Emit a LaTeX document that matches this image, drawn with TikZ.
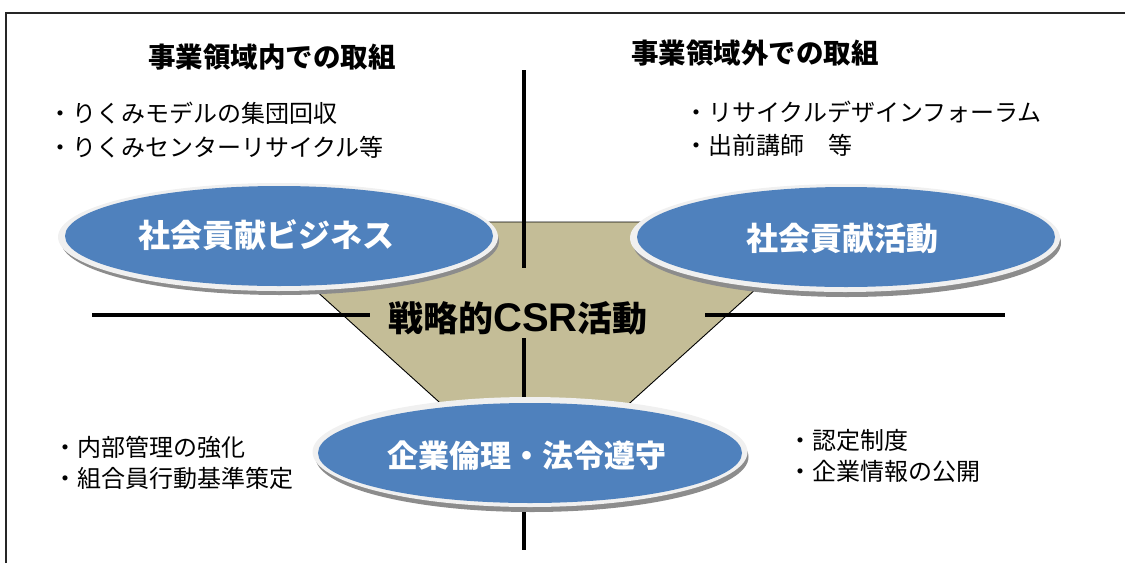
\documentclass[tikz,border=0pt]{standalone}
\usepackage{fontspec}
\setmainfont{Noto Sans CJK JP}
\newfontfamily\jpfont{Noto Sans CJK JP}
\newfontfamily\latinbold{Liberation Sans}
\usetikzlibrary{shapes.geometric}
\definecolor{ovalblue}{RGB}{79,129,189}
\definecolor{tan}{RGB}{196,189,151}
\definecolor{rim}{RGB}{240,240,240}
\tikzset{
  x=1pt,y=-1pt,
  axis/.style={line width=4.5pt,black},
  rimshadow/.style={ellipse,fill=black!45,draw=none,inner sep=0pt},
  rimoval/.style={ellipse,fill=rim,draw=none,inner sep=0pt},
  blueoval/.style={ellipse,fill=ovalblue,draw=none,inner sep=0pt},
  ovaltext/.style={text=white,font=\jpfont\bfseries\fontsize{32}{34}\selectfont,inner sep=0pt},
  header/.style={font=\jpfont\bfseries\fontsize{27.5}{30}\selectfont,inner sep=0pt},
  bullets/.style={font=\jpfont\fontsize{24}{34}\selectfont,align=left,inner sep=0pt,anchor=west},
}
\begin{document}
\begin{tikzpicture}
\useasboundingbox (0,0) rectangle (1125,563);
% frame
\draw[line width=2.5pt,black!85] (6,563) -- (6,13) -- (1125,13);
% trapezoid
\draw[fill=tan,draw=black,line width=0.9pt] (240,222) -- (830,222) -- (611,420) -- (459,420) -- cycle;
% axes
\coordinate (vt) at (524,70);
\coordinate (vm1) at (524,268);
\coordinate (vm2) at (524,338);
\coordinate (vb) at (524,550);
\coordinate (hl) at (92,315);
\coordinate (hm1) at (370,315);
\coordinate (hm2) at (705,315);
\coordinate (hr) at (1005,315);
\draw[axis] (vt) -- (vm1);
\draw[axis] (vm2) -- (vb);
\draw[axis] (hl) -- (hm1);
\draw[axis] (hm2) -- (hr);
% center text
\node[font=\jpfont\bfseries\fontsize{35}{36}\selectfont,inner sep=0pt] (csr) at (518,318) {戦略的{\latinbold\bfseries\fontsize{40}{36}\selectfont CSR}活動};
% left oval
\node[rimshadow,minimum width=438pt,minimum height=108pt] (ls) at (280,241) {};
\node[rimoval,minimum width=440pt,minimum height=108pt] (lr) at (278,237) {};
\node[blueoval,minimum width=428pt,minimum height=100pt] (lb) at (279,236) {};
\node[ovaltext] (lt) at (266,235) {社会貢献ビジネス};
% right oval
\node[rimshadow,minimum width=428pt,minimum height=108pt] (rs) at (847,243) {};
\node[rimoval,minimum width=430pt,minimum height=108pt] (rr) at (845,238) {};
\node[blueoval,minimum width=418pt,minimum height=100pt] (rb) at (846,237) {};
\node[ovaltext] (rt) at (842,238) {社会貢献活動};
% bottom oval
\node[rimshadow,minimum width=433pt,minimum height=110pt] (bs) at (532,457) {};
\node[rimoval,minimum width=435pt,minimum height=110pt] (br) at (530,452) {};
\node[blueoval,minimum width=424pt,minimum height=100pt] (bb) at (530,453) {};
\node[ovaltext,font=\jpfont\bfseries\fontsize{31}{34}\selectfont] (bt) at (527,456) {企業倫理・法令遵守};
% headers
\node[header] (hL) at (272,57) {事業領域内での取組};
\node[header] (hR) at (755,53) {事業領域外での取組};
% bullets
\node[bullets] (bl1) at (48,113) {・りくみモデルの集団回収};
\node[bullets] (bl2) at (48,147) {・りくみセンターリサイクル等};
\node[bullets] (br1) at (684,112) {・リサイクルデザインフォーラム};
\node[bullets] (br2) at (684,145) {・出前講師　等};
\node[bullets] (cl1) at (53,447) {・内部管理の強化};
\node[bullets] (cl2) at (53,478) {・組合員行動基準策定};
\node[bullets] (cr1) at (788,440) {・認定制度};
\node[bullets] (cr2) at (788,471) {・企業情報の公開};
\end{tikzpicture}
\end{document}
